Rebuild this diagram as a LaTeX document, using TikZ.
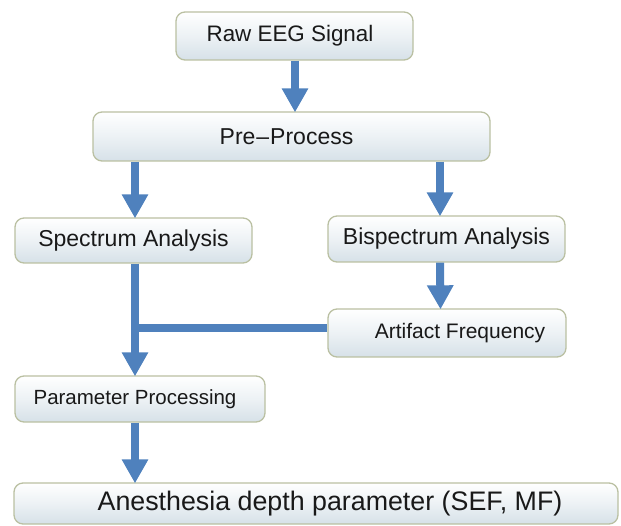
\documentclass[tikz,border=0pt]{standalone}
\usepackage{fontspec}
\setmainfont{Liberation Sans}
\usetikzlibrary{arrows.meta,calc}
\definecolor{flowblue}{RGB}{79,129,189}
\definecolor{boxedge}{RGB}{186,192,162}
\definecolor{boxlow}{RGB}{214,225,232}
\tikzset{
  box/.style={draw=boxedge, line width=1.3pt, rounded corners=9pt,
    top color=white, bottom color=boxlow, middle color=white!55!boxlow,
    inner sep=0pt, text=black!90},
  flow/.style={draw=flowblue, line width=8pt},
  flowarrow/.style={flow, -{Triangle[width=25pt,length=24pt]}, shorten >=-1pt},
}
\newcommand{\fsz}[1]{\fontsize{#1}{#1}\selectfont}
\begin{document}
\begin{tikzpicture}[x=1pt,y=-1pt]
  \useasboundingbox (0,0) rectangle (621,526);

  % process boxes
  \node[box, minimum width=237, minimum height=48] (raw) at (294.5,36)
    {\fsz{22.4}\hspace*{-9pt}Raw EEG Signal};
  \node[box, minimum width=397, minimum height=49] (pre) at (291.5,136.5)
    {\fsz{23}\hspace*{-10pt}Pre\kern1pt–\kern1ptProcess};
  \node[box, minimum width=237, minimum height=45] (spec) at (133.5,240.5)
    {\fsz{23}Spectrum Analysis};
  \node[box, minimum width=237, minimum height=46] (bisp) at (446.5,239)
    {\fsz{23}Bispectrum Analysis};
  \node[box, minimum width=238, minimum height=48] (art) at (447,333)
    {\fsz{21}\hspace*{26pt}Artifact Frequency};
  \node[box, minimum width=250, minimum height=46] (param) at (140,399)
    {\fsz{20.5}\hspace*{-10pt}Parameter Processing};
  \node[box, minimum width=604, minimum height=41] (anes) at (316,503.5)
    {\fsz{26.8}\hspace*{28pt}Anesthesia depth parameter (SEF, MF)};

  % junction where the artifact branch joins the spectrum path
  \coordinate (join) at (135,328);

  % connectors
  \draw[flowarrow] ([xshift=0.5pt]raw.south) -- ([xshift=3.5pt]pre.north);
  \draw[flowarrow] (pre.south -| join) -- (spec.north -| join);
  \draw[flowarrow] ([xshift=-6.5pt]bisp.south |- pre.south) -- ([xshift=-6.5pt]bisp.north);
  \draw[flowarrow] ([xshift=-6.5pt]bisp.south) -- ([xshift=-6.5pt]art.north);
  \draw[flowarrow] (spec.south -| join) -- (param.north -| join);
  \draw[flow] ([xshift=-4pt]join) -- (art.west |- join);
  \draw[flowarrow] (param.south -| join) -- (anes.north -| join);
\end{tikzpicture}
\end{document}
